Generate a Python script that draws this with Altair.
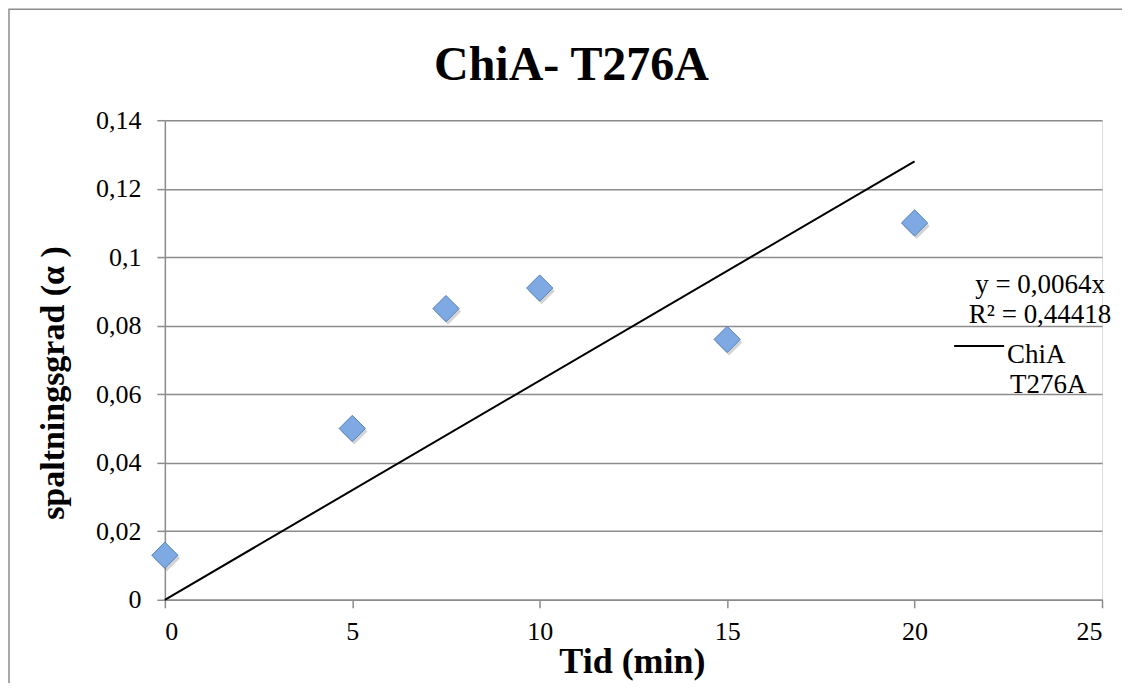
import altair as alt
import pandas as pd

# data
tid = [0, 5, 7.5, 10, 15, 20]
alpha = [0.013, 0.050, 0.085, 0.091, 0.076, 0.110]
trend_x = [0, 20]
trend_y = [0.0, 0.128]

pts = pd.DataFrame({"Tid": tid, "alpha": alpha})
trend = pd.DataFrame({"Tid": trend_x, "alpha": trend_y})
one = pts.head(1)

FONT = "Liberation Serif"
GRAY = "#8c8c8c"

xs = alt.Scale(domain=[0, 25], nice=False)
ys = alt.Scale(domain=[0, 0.14], nice=False)

xaxis = alt.Axis(values=[0, 5, 10, 15, 20, 25], title=None, grid=False,
                 domainColor=GRAY, domainWidth=1.5, tickColor=GRAY,
                 tickWidth=1.5, tickSize=8, labelFont=FONT, labelFontSize=26,
                 labelColor="black", labelPadding=11)
yaxis = alt.Axis(values=[0, 0.02, 0.04, 0.06, 0.08, 0.1, 0.12, 0.14],
                 labelExpr="replace(format(datum.value, '.2~f'), '.', ',')",
                 title=None, grid=True, gridColor=GRAY,
                 gridWidth=1.5, domainColor=GRAY, domainWidth=1.5,
                 tickColor=GRAY, tickWidth=1.5, tickSize=8,
                 labelFont=FONT, labelFontSize=26, labelColor="black",
                 labelPadding=16)

base_axes = alt.Chart(pts).mark_point(opacity=0).encode(
    x=alt.X("Tid:Q", scale=xs, axis=xaxis),
    y=alt.Y("alpha:Q", scale=ys, axis=yaxis),
)

line = alt.Chart(trend).mark_line(color="black", strokeWidth=2).encode(
    x=alt.X("Tid:Q", scale=xs), y=alt.Y("alpha:Q", scale=ys))

shadow = alt.Chart(pts).mark_point(
    shape="diamond", size=690, filled=True, color="#606060", opacity=0.28,
    xOffset=2, yOffset=3).encode(
    x=alt.X("Tid:Q", scale=xs), y=alt.Y("alpha:Q", scale=ys))

diamonds = alt.Chart(pts).mark_point(
    shape="diamond", size=690, filled=True, fill="#7fa9e2", stroke="#4f81bd",
    strokeWidth=1, opacity=1).encode(
    x=alt.X("Tid:Q", scale=xs), y=alt.Y("alpha:Q", scale=ys))


def txt(s, x, y, size=27, align="left", bold=False, angle=0, baseline="middle"):
    kw = dict(text=s, font=FONT, fontSize=size, color="black", align=align,
              baseline=baseline)
    if bold:
        kw["fontWeight"] = "bold"
    if angle:
        kw["angle"] = angle
    return alt.Chart(one).mark_text(**kw).encode(x=alt.value(x), y=alt.value(y))


title = txt("ChiA- T276A", 407, -40, size=48, align="center", bold=True,
            baseline="alphabetic")
xtitle = txt("Tid (min)", 468, 553, size=36, align="center", bold=True,
             baseline="alphabetic")
ytitle = txt("spaltningsgrad (α )", -101, 400, size=34, align="left",
             bold=True, angle=270, baseline="alphabetic")

eq1 = txt("y = 0,0064x", 876, 165, align="center")
eq2 = txt("R² = 0,44418", 876, 195, align="center")
leg_line = alt.Chart(one).mark_rule(color="black", strokeWidth=2).encode(
    x=alt.value(790), x2=alt.value(840), y=alt.value(226))
leg1 = txt("ChiA", 843, 235)
leg2 = txt("T276A", 846, 265)

frame = alt.Chart(one).mark_rect(
    fill=None, stroke=GRAY, strokeWidth=1.5).encode(
    x=alt.value(-156), x2=alt.value(1000), y=alt.value(-111), y2=alt.value(700))

chart = alt.layer(frame, base_axes, line, shadow, diamonds, title, xtitle,
                  ytitle, eq1, eq2, leg_line, leg1, leg2).properties(
    width=938, height=480,
    padding={"left": 157, "top": 112, "right": 20, "bottom": 83},
    autosize=alt.AutoSizeParams(type="none"),
).configure_view(stroke=None).configure(background="white")

chart.save("out.html", embed_options={"renderer": "svg", "actions": False})
